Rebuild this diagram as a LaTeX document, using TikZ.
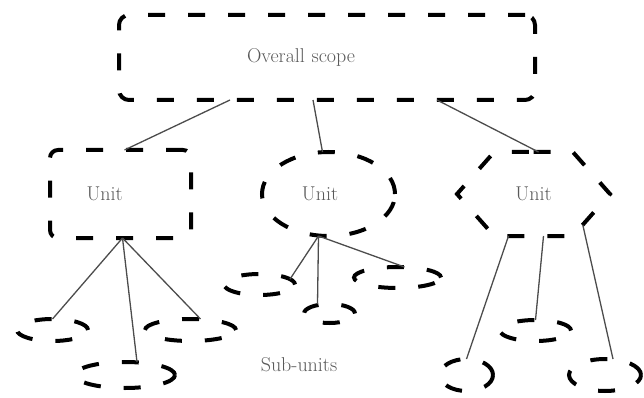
\documentclass[tikz,border=0pt]{standalone}
\usepackage{tikz}
\usetikzlibrary{shapes.geometric, shapes.symbols}
\tikzstyle{outline} = [draw=black, line width=4pt, dash pattern=on 17pt off 23pt, inner sep=0pt, outer sep=0pt, text=black!65, font=\fontsize{20}{22}\selectfont]
\tikzstyle{scopebox} = [outline, rectangle, rounded corners=10pt, minimum width=416pt, minimum height=85pt]
\tikzstyle{unitbox} = [outline, rectangle, rounded corners=8pt, minimum width=141pt, minimum height=88pt]
\tikzstyle{unitoval} = [outline, ellipse, minimum width=133pt, minimum height=84pt]
\tikzstyle{unithex} = [outline, signal, signal to=west and east, signal pointer angle=97, minimum width=153pt, minimum height=84pt]
\tikzstyle{subunit} = [outline, ellipse]
\tikzstyle{connector} = [draw=black!70, line width=1.3pt]

\begin{document}
\begin{tikzpicture}[x=1pt, y=-1pt]
        \useasboundingbox (0,0) rectangle (644,398);

        \node (scope) [scopebox, text width=160pt, align=left] at (327,57.5) {Overall scope};
        \node (unitA) [unitbox, text width=68pt, align=left] at (120.5,194) {Unit};
        \node (unitB) [unitoval] at (328.5,194) {\hspace*{-17pt}Unit};
        \node (unitC) [unithex] at (533.5,194) {Unit};

        \node (subA) [subunit, minimum width=71pt, minimum height=22pt] at (52.5,330) {};
        \node (subB) [subunit, minimum width=91pt, minimum height=22pt] at (190.5,330) {};
        \node (subC) [subunit, minimum width=100pt, minimum height=26pt] at (125,375) {};
        \node (subD) [subunit, minimum width=71pt, minimum height=21pt] at (259.5,284.5) {};
        \node (subE) [subunit, minimum width=87pt, minimum height=21pt] at (397.5,277.5) {};
        \node (subF) [subunit, minimum width=51pt, minimum height=19pt] at (329.5,313.5) {};
        \node (subG) [subunit, minimum width=53pt, minimum height=32pt] at (466.5,375) {};
        \node (subH) [subunit, minimum width=71pt, minimum height=21pt] at (535.5,330.5) {};
        \node (subI) [subunit, minimum width=72pt, minimum height=32pt] at (605,375) {};

        \node (subtitle) [text=black!65, font=\fontsize{20}{22}\selectfont] at (299,365) {Sub-units};

        \draw [connector] ([xshift=-97pt]scope.south) -- ([xshift=4pt]unitA.north);
        \draw [connector] ([xshift=-14pt]scope.south) -- ([xshift=-6pt]unitB.north);
        \draw [connector] ([xshift=110pt]scope.south) -- ([xshift=5pt]unitC.north);

        \draw [connector] ([xshift=2pt]unitA.south) -- (subA.north);
        \draw [connector] ([xshift=2pt]unitA.south) -- ([xshift=12pt]subC.north);
        \draw [connector] ([xshift=2pt]unitA.south) -- ([xshift=10pt]subB.north);

        \draw [connector] ([xshift=-10pt]unitB.south) -- (subD.10);
        \draw [connector] ([xshift=-10pt]unitB.south) -- ([xshift=-12pt]subF.north);
        \draw [connector] ([xshift=-10pt]unitB.south) -- ([xshift=7pt]subE.north);

        \draw [connector] ([xshift=-25pt]unitC.south) -- (subG.north);
        \draw [connector] ([xshift=10pt]unitC.south) -- (subH.north);
        \draw [connector] (unitC.-32) -- ([xshift=8pt]subI.north);

        \end{tikzpicture}
\end{document}
